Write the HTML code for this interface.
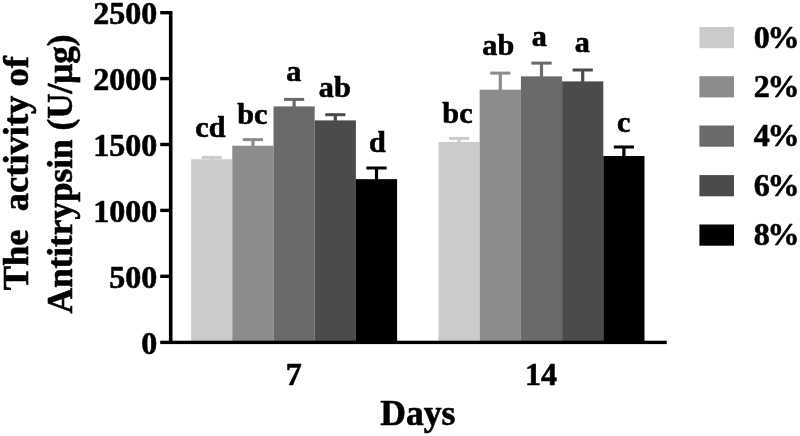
<!DOCTYPE html>
<html><head><meta charset="utf-8"><title>chart</title>
<style>
html,body{margin:0;padding:0;background:#fff;}
svg{display:block;}
text{font-family:"Liberation Serif",serif;font-weight:bold;fill:#000;stroke:#000;stroke-width:0.6px;stroke-linejoin:round;}
</style></head><body>
<svg width="800" height="436" viewBox="0 0 800 436">
<rect x="0" y="0" width="800" height="436" fill="#ffffff"/>

<rect x="191.10" y="159.25" width="41.20" height="182.95" fill="#cbcbcb"/>
<rect x="210.10" y="157.40" width="3.2" height="2.35" fill="#cbcbcb"/>
<rect x="201.60" y="155.90" width="20.2" height="3" fill="#cbcbcb"/>
<rect x="232.30" y="145.75" width="41.20" height="196.45" fill="#8c8c8c"/>
<rect x="251.30" y="139.60" width="3.2" height="6.65" fill="#8c8c8c"/>
<rect x="242.80" y="138.10" width="20.2" height="3" fill="#8c8c8c"/>
<rect x="273.50" y="106.40" width="41.20" height="235.80" fill="#6a6a6a"/>
<rect x="292.50" y="99.40" width="3.2" height="7.50" fill="#6a6a6a"/>
<rect x="284.00" y="97.90" width="20.2" height="3" fill="#6a6a6a"/>
<rect x="314.70" y="120.40" width="41.20" height="221.80" fill="#4b4b4b"/>
<rect x="333.70" y="114.70" width="3.2" height="6.20" fill="#4b4b4b"/>
<rect x="325.20" y="113.20" width="20.2" height="3" fill="#4b4b4b"/>
<rect x="355.90" y="179.15" width="41.20" height="163.05" fill="#000000"/>
<rect x="374.90" y="168.00" width="3.2" height="11.65" fill="#000000"/>
<rect x="366.40" y="166.50" width="20.2" height="3" fill="#000000"/>
<rect x="438.50" y="141.90" width="41.20" height="200.30" fill="#cbcbcb"/>
<rect x="457.50" y="138.40" width="3.2" height="4.00" fill="#cbcbcb"/>
<rect x="449.00" y="136.90" width="20.2" height="3" fill="#cbcbcb"/>
<rect x="479.70" y="89.65" width="41.20" height="252.55" fill="#8c8c8c"/>
<rect x="498.70" y="73.10" width="3.2" height="17.05" fill="#8c8c8c"/>
<rect x="490.20" y="71.60" width="20.2" height="3" fill="#8c8c8c"/>
<rect x="520.90" y="76.35" width="41.20" height="265.85" fill="#6a6a6a"/>
<rect x="539.90" y="63.10" width="3.2" height="13.75" fill="#6a6a6a"/>
<rect x="531.40" y="61.60" width="20.2" height="3" fill="#6a6a6a"/>
<rect x="562.10" y="81.40" width="41.20" height="260.80" fill="#4b4b4b"/>
<rect x="581.10" y="70.00" width="3.2" height="11.90" fill="#4b4b4b"/>
<rect x="572.60" y="68.50" width="20.2" height="3" fill="#4b4b4b"/>
<rect x="603.30" y="156.00" width="41.20" height="186.20" fill="#000000"/>
<rect x="622.30" y="147.00" width="3.2" height="9.50" fill="#000000"/>
<rect x="613.80" y="145.50" width="20.2" height="3" fill="#000000"/>
<rect x="168.9" y="11.0" width="3.6" height="332.90" fill="#000"/>
<rect x="160.2" y="340.7" width="506.55" height="3.4" fill="#000"/>
<rect x="160.2" y="274.60" width="10" height="3.4" fill="#000"/>
<rect x="160.2" y="208.70" width="10" height="3.4" fill="#000"/>
<rect x="160.2" y="142.80" width="10" height="3.4" fill="#000"/>
<rect x="160.2" y="76.90" width="10" height="3.4" fill="#000"/>
<rect x="160.2" y="11.00" width="10" height="3.4" fill="#000"/>
<text x="157.2" y="353.70" font-size="32" text-anchor="end">0</text>
<text x="157.2" y="287.80" font-size="32" text-anchor="end">500</text>
<text x="157.2" y="221.90" font-size="32" text-anchor="end">1000</text>
<text x="157.2" y="156.00" font-size="32" text-anchor="end">1500</text>
<text x="157.2" y="90.10" font-size="32" text-anchor="end">2000</text>
<text x="157.2" y="24.20" font-size="32" text-anchor="end">2500</text>
<text x="293.7" y="384.7" font-size="32" text-anchor="middle">7</text>
<text x="540.9" y="384.7" font-size="32" text-anchor="middle">14</text>
<text x="417.8" y="425.4" font-size="35.6" text-anchor="middle">Days</text>
<text transform="translate(27.6,173.2) rotate(-90)" font-size="36.5" text-anchor="middle" xml:space="preserve" style="white-space:pre">The  activity of</text>
<text transform="translate(71.9,173.9) rotate(-90)" font-size="35.2" text-anchor="middle">Antitrypsin (U/μg)</text>
<text x="210.4" y="136.7" font-size="30.2" text-anchor="middle">cd</text>
<text x="252.25" y="123.8" font-size="30.2" text-anchor="middle">bc</text>
<text x="293.9" y="80.5" font-size="30.2" text-anchor="middle">a</text>
<text x="334.8" y="97.1" font-size="30.2" text-anchor="middle">ab</text>
<text x="377.45" y="152.0" font-size="30.2" text-anchor="middle">d</text>
<text x="457.45" y="122.7" font-size="30.2" text-anchor="middle">bc</text>
<text x="498.25" y="54.6" font-size="30.2" text-anchor="middle">ab</text>
<text x="539.4" y="45.8" font-size="30.2" text-anchor="middle">a</text>
<text x="582.2" y="52.4" font-size="30.2" text-anchor="middle">a</text>
<text x="623.75" y="132.2" font-size="30.2" text-anchor="middle">c</text>
<rect x="699.4" y="27.00" width="34.6" height="21.2" fill="#cbcbcb"/>
<text x="753.8" y="47.80" font-size="32">0<tspan dx="-2.2">%</tspan></text>
<rect x="699.4" y="76.20" width="34.6" height="21.2" fill="#8c8c8c"/>
<text x="753.8" y="97.00" font-size="32">2<tspan dx="-2.2">%</tspan></text>
<rect x="699.4" y="125.50" width="34.6" height="21.2" fill="#6a6a6a"/>
<text x="753.8" y="146.30" font-size="32">4<tspan dx="-2.2">%</tspan></text>
<rect x="699.4" y="175.10" width="34.6" height="21.2" fill="#4b4b4b"/>
<text x="753.8" y="195.90" font-size="32">6<tspan dx="-2.2">%</tspan></text>
<rect x="699.4" y="224.50" width="34.6" height="21.2" fill="#000000"/>
<text x="753.8" y="245.30" font-size="32">8<tspan dx="-2.2">%</tspan></text>
</svg></body></html>
